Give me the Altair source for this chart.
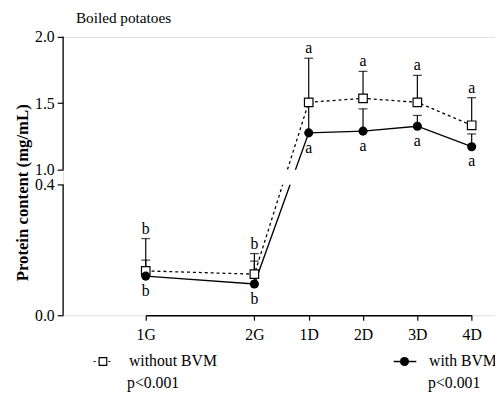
import altair as alt
import pandas as pd

# ---------------- data ----------------
categories = ["1G", "2G", "1D", "2D", "3D", "4D"]
without_mean = [0.136, 0.126, 1.507, 1.537, 1.507, 1.334]
without_upper = [0.235, 0.189, 1.839, 1.740, 1.710, 1.542]
with_mean = [0.120, 0.096, 1.277, 1.290, 1.327, 1.173]
with_upper = [0.169, 0.166, 1.500, 1.458, 1.408, 1.269]
letters_without = ["b", "b", "a", "a", "a", "a"]
letters_with = ["b", "b", "a", "a", "a", "a"]
y_ticks = [0.0, 0.4, 1.0, 1.5, 2.0]

# ---------------- broken-axis layout ----------------
LOW_MAX, HIGH_MIN, HIGH_MAX = 0.4, 1.0, 2.0
LOW_PX, GAP_PX, HIGH_PX = 132.4, 15.3, 134.7
TOTAL = LOW_PX + GAP_PX + HIGH_PX


def disp(v):
    if v <= LOW_MAX:
        return v / LOW_MAX * LOW_PX
    return LOW_PX + GAP_PX + (v - HIGH_MIN) / (HIGH_MAX - HIGH_MIN) * HIGH_PX


def disp_expr(field):
    return (f"datum.{field} <= {LOW_MAX} ? datum.{field} / {LOW_MAX} * {LOW_PX} : "
            f"{LOW_PX + GAP_PX} + (datum.{field} - {HIGH_MIN}) / {HIGH_MAX - HIGH_MIN} * {HIGH_PX}")


FONT = "Liberation Serif"
W, H = 439, 283
FS = 16

rows = []
for i, c in enumerate(categories):
    rows.append(dict(cat=c, idx=i, series="without", mean=without_mean[i],
                     upper=without_upper[i], letter=letters_without[i]))
    rows.append(dict(cat=c, idx=i, series="with", mean=with_mean[i],
                     upper=with_upper[i], letter=letters_with[i]))
df = pd.DataFrame(rows)

xscale = alt.Scale(type="point", domain=["1G", " ", "2G", "1D", "2D", "3D", "4D"],
                   range=[84, 415.3], padding=0)
yscale = alt.Scale(domain=[0, TOTAL], nice=False, zero=False)

label_expr = (f"datum.value <= {LOW_PX + 1} ? format(datum.value / {LOW_PX} * {LOW_MAX}, '.1f') : "
              f"format({HIGH_MIN} + (datum.value - {LOW_PX + GAP_PX}) / {HIGH_PX} * {HIGH_MAX - HIGH_MIN}, '.1f')")

xaxis = alt.Axis(values=categories, title=None, labelFont=FONT, labelFontSize=FS,
                 labelColor="black", tickSize=5, tickColor="black", domainColor="black",
                 domainWidth=1.3, tickWidth=1.2, labelPadding=7, grid=False, labelAngle=0)
yaxis = alt.Axis(values=[disp(v) for v in y_ticks], labelExpr=label_expr,
                 labelOverlap=False, labelFlush=False,
                 title="Protein content (mg/mL)", titleFont=FONT, titleFontSize=17,
                 titleFontWeight="bold", titleColor="black", titleX=-41, titleY=158,
                 titleAngle=270, titleAlign="center", titleBaseline="middle",
                 domain=False, tickSize=6, tickColor="black", tickWidth=1.2,
                 labelFont=FONT, labelFontSize=FS, labelColor="black",
                 labelPadding=3, grid=False)

base = alt.Chart(df).transform_calculate(
    dm=disp_expr("mean"), du=disp_expr("upper")
)

X = alt.X("cat:N", scale=xscale, axis=xaxis)


def Y(field):
    return alt.Y(field, scale=yscale, axis=yaxis)


line_without = base.transform_filter("datum.series == 'without'").mark_line(
    color="black", strokeWidth=1.3, strokeDash=[3, 3]
).encode(x=X, y=Y("dm:Q"), order="idx:Q")

line_with = base.transform_filter("datum.series == 'with'").mark_line(
    color="black", strokeWidth=1.4
).encode(x=X, y=Y("dm:Q"), order="idx:Q")

band_df = pd.DataFrame({"lo": [disp(LOW_MAX)], "hi": [disp(HIGH_MIN)]})
band = alt.Chart(band_df).mark_rect(color="white").encode(
    x=alt.value(1.5), x2=alt.value(W), y=Y("lo:Q"), y2="hi:Q"
)

err_rule = base.mark_rule(color="black", strokeWidth=1.2).encode(
    x=X, y=Y("dm:Q"), y2="du:Q"
)
err_cap = base.mark_tick(color="black", size=9, thickness=1.3).encode(
    x=X, y=Y("du:Q")
)

squares = base.transform_filter("datum.series == 'without'").mark_point(
    shape="square", filled=True, fill="white", stroke="black", strokeWidth=1.2,
    size=75, opacity=1
).encode(x=X, y=Y("dm:Q"))

circles = base.transform_filter("datum.series == 'with'").mark_circle(
    color="black", size=85, opacity=1
).encode(x=X, y=Y("dm:Q"))

top_letters = base.transform_filter("datum.series == 'without'").mark_text(
    font=FONT, fontSize=FS, color="black", baseline="middle", dy=-10
).encode(x=X, y=Y("du:Q"), text="letter:N")

bottom_letters = base.transform_filter("datum.series == 'with'").mark_text(
    font=FONT, fontSize=FS, color="black", baseline="middle", dy=15
).encode(x=X, y=Y("dm:Q"), text="letter:N")

# broken y-axis line segments
seg_df = pd.DataFrame({"lo": [disp(0.0), disp(HIGH_MIN)], "hi": [disp(LOW_MAX), disp(HIGH_MAX)]})
yaxis_lines = alt.Chart(seg_df).mark_rule(color="black", strokeWidth=1.3).encode(
    x=alt.value(0), y=Y("lo:Q"), y2="hi:Q"
)

# title and custom legend
one = alt.Data(values=[{}])
title_txt = alt.Chart(one).mark_text(text="Boiled potatoes", font=FONT, fontSize=15.5,
                                     color="black", align="left", baseline="middle").encode(
    x=alt.value(13), y=alt.value(-19))
LY = 330
leg_line1 = alt.Chart(one).mark_rule(color="black", strokeWidth=1.2, strokeDash=[2, 3]).encode(
    x=alt.value(31), x2=alt.value(50), y=alt.value(LY))
leg_sq = alt.Chart(one).mark_point(shape="square", filled=True, fill="white", stroke="black",
                                   strokeWidth=1.2, size=60, opacity=1).encode(
    x=alt.value(40.5), y=alt.value(LY))
leg_t1 = alt.Chart(one).mark_text(text="without BVM", font=FONT, fontSize=FS, color="black",
                                  align="left", baseline="middle").encode(
    x=alt.value(67), y=alt.value(LY))
leg_p1 = alt.Chart(one).mark_text(text="p<0.001", font=FONT, fontSize=FS, color="black",
                                  align="left", baseline="middle").encode(
    x=alt.value(65), y=alt.value(LY + 22))
leg_line2 = alt.Chart(one).mark_rule(color="black", strokeWidth=1.5).encode(
    x=alt.value(336), x2=alt.value(359), y=alt.value(LY))
leg_c = alt.Chart(one).mark_circle(color="black", size=85, opacity=1).encode(
    x=alt.value(347), y=alt.value(LY))
leg_t2 = alt.Chart(one).mark_text(text="with BVM", font=FONT, fontSize=FS, color="black",
                                  align="left", baseline="middle").encode(
    x=alt.value(372), y=alt.value(LY))
leg_p2 = alt.Chart(one).mark_text(text="p<0.001", font=FONT, fontSize=FS, color="black",
                                  align="left", baseline="middle").encode(
    x=alt.value(371), y=alt.value(LY + 22))

chart = alt.layer(
    line_without, line_with, band, err_rule, err_cap, squares, circles,
    top_letters, bottom_letters, yaxis_lines, title_txt,
    leg_line1, leg_sq, leg_t1, leg_p1, leg_line2, leg_c, leg_t2, leg_p2,
).properties(
    width=W, height=H,
    autosize=alt.AutoSizeParams(type="none"),
    padding={"left": 56, "top": 26, "right": 0, "bottom": 95},
).configure_view(strokeWidth=0).configure_axis(grid=False).configure(background="white")

chart.save("out.html", embed_options={"renderer": "svg", "actions": False})
